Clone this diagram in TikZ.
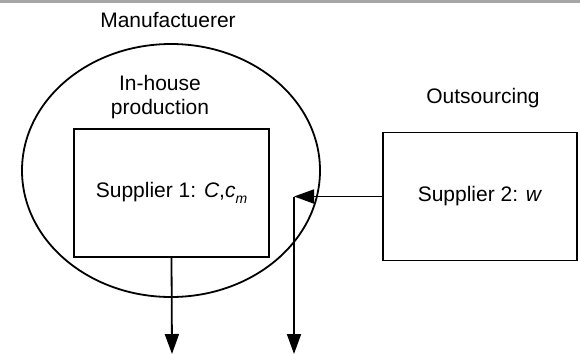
\documentclass[tikz,border=0pt]{standalone}
\usepackage{fontspec}
\setmainfont{Liberation Sans}
\usetikzlibrary{shapes.geometric,arrows.meta}
\begin{document}
\begin{tikzpicture}[x=1pt,y=-1pt,
  lbl/.style={font=\fontsize{21}{24}\selectfont, inner sep=0pt, align=center},
  unit/.style={draw, line width=1.8pt, minimum width=#1, minimum height=128pt, inner sep=0pt, font=\fontsize{21}{24}\selectfont},
  link/.style={line width=1.8pt, -{Triangle[length=20pt,width=14pt]}}]
  \useasboundingbox (0,0) rectangle (580,354);
  % top rule
  \fill[gray!70] (0,0) rectangle (580,3.2);
  % manufacturer boundary
  \node[ellipse, draw, line width=1.8pt, minimum width=298pt, minimum height=253pt, inner sep=0pt] (mfr) at (171,170.5) {};
  \node[lbl] (mfrlbl) at (168,20) {Manufactuerer};
  \node[lbl] (inhouse) at (160,97) {In-house\\production};
  \node[lbl] (outs) at (483,98) {Outsourcing};
  % suppliers
  \node[unit=195pt] (s1) at (171.5,193) {Supplier 1: \textit{C},\textit{c}\raisebox{-0.28em}{\fontsize{14}{14}\selectfont\textit{m}}};
  \node[unit=194pt] (s2) at (480,196.5) {Supplier 2: \textit{w}};
  % flows
  \coordinate (bend) at (294,196.5);
  \coordinate (out1) at (172,354);
  \coordinate (out2) at (294,354);
  \draw[link] (s1.south) -- (out1);
  \draw[link] (s2.west) -- (bend);
  \draw[link] (bend) -- (out2);
\end{tikzpicture}
\end{document}
